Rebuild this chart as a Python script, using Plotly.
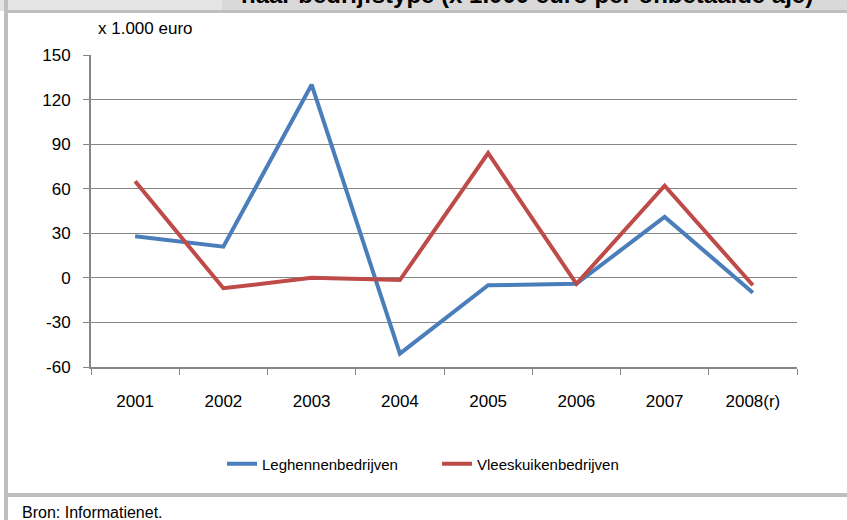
import plotly.graph_objects as go

years = ["2001", "2002", "2003", "2004", "2005", "2006", "2007", "2008(r)"]
leghennen = [28, 21, 130, -51, -5, -4, 41, -10]
vleeskuiken = [65, -7, 0, -1.5, 84, -4, 62, -5]
y_ticks = [-60, -30, 0, 30, 60, 90, 120, 150]
y_ticktext = ["-60", "-30", "0", "30", "60", "90", "120", "150"]

W, H = 847, 520
L, R, T, B = 91, 50, 55, 153
PW, PH = W - L - R, H - T - B

def px(x):
    return (x - L) / PW

def py(y):
    return (H - B - y) / PH

FONT = "Liberation Sans, Arial, sans-serif"

fig = go.Figure()
fig.add_trace(go.Scatter(x=years, y=leghennen, mode="lines", name="Leghennenbedrijven",
                         line=dict(color="#4A7EBB", width=4)))
fig.add_trace(go.Scatter(x=years, y=vleeskuiken, mode="lines", name="Vleeskuikenbedrijven",
                         line=dict(color="#BE4B48", width=4)))

shapes = [
    dict(type="rect", xref="paper", yref="paper", x0=px(0), x1=px(222), y0=py(0), y1=py(11),
         fillcolor="#E4E4E4", line=dict(width=0), layer="below"),
    dict(type="rect", xref="paper", yref="paper", x0=px(222), x1=px(W), y0=py(0), y1=py(11),
         fillcolor="#D9D9D9", line=dict(width=0), layer="below"),
    dict(type="rect", xref="paper", yref="paper", x0=px(4), x1=px(W), y0=py(10), y1=py(13),
         fillcolor="#BFBFBF", line=dict(width=0), layer="below"),
    dict(type="rect", xref="paper", yref="paper", x0=px(4), x1=px(8), y0=py(0), y1=py(H),
         fillcolor="#BFBFBF", line=dict(width=0), layer="below"),
    dict(type="rect", xref="paper", yref="paper", x0=px(4), x1=px(W), y0=py(493), y1=py(497),
         fillcolor="#BFBFBF", line=dict(width=0), layer="below"),
]

annotations = [
    dict(text="<b>naar bedrijfstype (x 1.000 euro per onbetaalde aje)</b>", xref="paper", yref="paper",
         x=px(527), y=py(-6), xanchor="center", yanchor="middle", showarrow=False,
         font=dict(family=FONT, size=24, color="#000000")),
    dict(text="x 1.000 euro", xref="paper", yref="paper", x=px(96), y=py(28),
         xanchor="left", yanchor="middle", showarrow=False,
         font=dict(family=FONT, size=17, color="#000000")),
    dict(text="Bron: Informatienet.", xref="paper", yref="paper", x=px(20), y=py(512),
         xanchor="left", yanchor="middle", showarrow=False,
         font=dict(family=FONT, size=16, color="#000000")),
]

fig.update_layout(
    width=W, height=H,
    margin=dict(l=L, r=R, t=T, b=B, pad=0),
    paper_bgcolor="white", plot_bgcolor="white",
    font=dict(family=FONT, size=17, color="#000000"),
    showlegend=True,
    legend=dict(orientation="h", x=px(222), y=py(464), xanchor="left", yanchor="middle",
                font=dict(family=FONT, size=15, color="#000000"), itemwidth=30,
                entrywidth=170, entrywidthmode="pixels",
                bgcolor="rgba(0,0,0,0)"),
    shapes=shapes,
    annotations=annotations,
    xaxis=dict(type="category", range=[-0.5, 7.5], showgrid=False, zeroline=False,
               showline=True, linecolor="#868686", linewidth=2,
               ticks="outside", tickson="boundaries", ticklen=6, tickcolor="#868686",
               tickfont=dict(family=FONT, size=17), ticklabelstandoff=18),
    yaxis=dict(range=[-60, 150], tickvals=y_ticks, ticktext=y_ticktext, showgrid=True,
               gridcolor="#868686", gridwidth=1, zeroline=False, showline=True,
               linecolor="#868686", linewidth=2,
               ticks="outside", ticklen=6, tickcolor="#868686",
               tickfont=dict(family=FONT, size=17), ticklabelstandoff=9),
)

fig.write_html("out.html", config={"displayModeBar": False},
               post_script="document.body.style.margin='0';document.body.style.padding='0';")
